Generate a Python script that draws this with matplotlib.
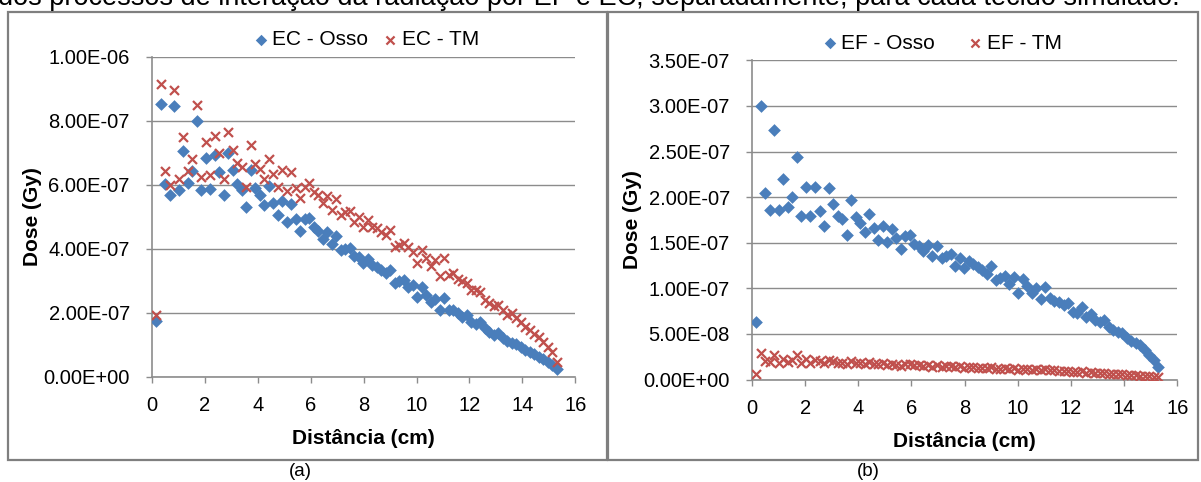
import matplotlib
matplotlib.use('Agg')
import matplotlib.pyplot as plt
from matplotlib.patches import Rectangle
from matplotlib.ticker import FuncFormatter, MultipleLocator

plt.rcParams['font.family'] = ['Liberation Sans', 'DejaVu Sans']

# distância (cm) - mesma grade para todas as séries
distancia = [0.16, 0.33, 0.50, 0.67, 0.84, 1.01, 1.18, 1.35, 1.52, 1.69,
             1.86, 2.03, 2.20, 2.37, 2.54, 2.71, 2.88, 3.05, 3.22, 3.39,
             3.56, 3.73, 3.90, 4.07, 4.24, 4.41, 4.58, 4.75, 4.92, 5.09,
             5.26, 5.43, 5.60, 5.77, 5.94, 6.11, 6.28, 6.45, 6.62, 6.79,
             6.96, 7.13, 7.30, 7.47, 7.64, 7.81, 7.98, 8.15, 8.32, 8.49,
             8.66, 8.83, 9.00, 9.17, 9.34, 9.51, 9.68, 9.85, 10.02, 10.19,
             10.36, 10.53, 10.70, 10.87, 11.04, 11.21, 11.38, 11.55, 11.72, 11.89,
             12.06, 12.23, 12.40, 12.57, 12.74, 12.91, 13.08, 13.25, 13.42, 13.59,
             13.76, 13.93, 14.10, 14.27, 14.44, 14.61, 14.78, 14.95, 15.12, 15.29]

# EC (x 1e-7 Gy)
ec_osso = [1.75, 8.53, 6.02, 5.68, 8.47, 5.85, 7.05, 6.05, 6.42, 7.99,
           5.85, 6.85, 5.86, 6.93, 6.39, 5.67, 6.98, 6.47, 6.03, 5.83,
           5.31, 6.46, 5.89, 5.68, 5.36, 5.95, 5.42, 5.05, 5.50, 4.84,
           5.40, 4.92, 4.56, 4.92, 4.95, 4.67, 4.56, 4.31, 4.53, 4.14,
           4.40, 3.96, 4.00, 4.03, 3.77, 3.73, 3.56, 3.67, 3.49, 3.42,
           3.33, 3.25, 3.35, 2.92, 2.99, 3.02, 2.79, 2.86, 2.50, 2.79,
           2.55, 2.34, 2.43, 2.10, 2.45, 2.10, 2.08, 1.98, 1.88, 1.93,
           1.72, 1.65, 1.72, 1.51, 1.41, 1.30, 1.38, 1.20, 1.13, 1.04,
           1.02, 0.94, 0.85, 0.78, 0.70, 0.63, 0.54, 0.46, 0.36, 0.24]
ec_tm = [1.93, 9.15, 6.44, 5.99, 8.96, 6.19, 7.48, 6.44, 6.79, 8.49,
         6.25, 7.32, 6.30, 7.52, 6.98, 6.19, 7.66, 7.10, 6.69, 6.54,
         5.94, 7.24, 6.65, 6.50, 6.17, 6.81, 6.35, 5.92, 6.46, 5.81,
         6.41, 5.89, 5.57, 5.92, 6.04, 5.78, 5.68, 5.42, 5.65, 5.21,
         5.54, 5.05, 5.16, 5.19, 4.84, 5.00, 4.67, 4.90, 4.69, 4.64,
         4.53, 4.43, 4.58, 4.06, 4.11, 4.17, 4.06, 3.91, 3.54, 3.96,
         3.70, 3.46, 3.65, 3.15, 3.70, 3.18, 3.23, 3.04, 3.00, 2.92,
         2.71, 2.71, 2.66, 2.40, 2.29, 2.21, 2.24, 2.08, 1.93, 1.98,
         1.82, 1.72, 1.56, 1.46, 1.35, 1.25, 1.09, 0.94, 0.78, 0.47]

# EF (x 1e-8 Gy)
ef_osso = [6.3, 30.0, 20.4, 18.6, 27.4, 18.6, 22.0, 18.95, 20.0, 24.4,
           17.9, 21.1, 17.9, 21.1, 18.5, 16.8, 20.95, 19.2, 17.9, 17.6,
           15.8, 19.7, 17.85, 17.2, 16.2, 18.1, 16.6, 15.3, 16.8, 15.1,
           16.5, 15.5, 14.3, 15.7, 15.8, 14.9, 14.6, 14.1, 14.7, 13.5,
           14.6, 13.3, 13.5, 13.8, 12.4, 13.3, 12.2, 13.0, 12.7, 12.3,
           12.0, 11.6, 12.4, 10.9, 11.1, 11.35, 10.5, 11.2, 9.45, 11.0,
           10.2, 9.5, 10.0, 8.8, 10.1, 8.9, 8.65, 8.5, 8.2, 8.4,
           7.45, 7.25, 8.0, 6.9, 7.2, 6.5, 6.35, 6.5, 5.8, 5.4,
           5.2, 5.1, 4.5, 4.25, 3.95, 3.8, 3.2, 2.7, 2.15, 1.4]
ef_tm = [0.55, 2.95, 2.0, 1.9, 2.65, 1.8, 2.3, 1.95, 2.1, 2.7,
         1.85, 2.2, 1.85, 2.15, 2.0, 1.8, 2.15, 2.0, 1.85, 1.8,
         1.65, 2.05, 1.85, 1.8, 1.7, 1.9, 1.75, 1.65, 1.8, 1.6,
         1.75, 1.6, 1.5, 1.65, 1.75, 1.6, 1.55, 1.45, 1.6, 1.4,
         1.55, 1.4, 1.45, 1.45, 1.35, 1.45, 1.3, 1.4, 1.35, 1.3,
         1.3, 1.25, 1.35, 1.15, 1.2, 1.25, 1.2, 1.25, 1.05, 1.2,
         1.15, 1.05, 1.15, 1.0, 1.15, 1.0, 1.0, 0.95, 0.95, 0.95,
         0.85, 0.85, 0.9, 0.75, 0.8, 0.7, 0.75, 0.7, 0.6, 0.6,
         0.6, 0.55, 0.5, 0.5, 0.45, 0.4, 0.4, 0.35, 0.3, 0.25]

AZUL = '#4a7ebb'
VERMELHO = '#c0504d'
CINZA = '#8c8c8c'

W, H = 1201, 482
fig = plt.figure(figsize=(W / 100, H / 100), dpi=100)


def estilo_eixo(ax, ymax, ystep):
    ax.set_xlim(0, 16)
    ax.set_ylim(0, ymax)
    ax.xaxis.set_major_locator(MultipleLocator(2))
    ax.yaxis.set_major_locator(MultipleLocator(ystep))
    ax.yaxis.set_major_formatter(FuncFormatter(lambda v, p: f'{v:.2E}'))
    for s in ['top', 'right']:
        ax.spines[s].set_visible(False)
    for s in ['left', 'bottom']:
        ax.spines[s].set_color(CINZA)
        ax.spines[s].set_linewidth(1.2)
    ax.grid(True, axis='y', color=CINZA, linewidth=1.0)
    ax.set_axisbelow(True)
    ax.tick_params(axis='both', direction='out', length=4, color=CINZA,
                   width=1, labelsize=14.5)
    ax.tick_params(axis='x', pad=10)
    ax.tick_params(axis='y', pad=12)
    ax.set_xlabel('Distância (cm)', fontsize=15, fontweight='bold', labelpad=10)
    ax.set_ylabel('Dose (Gy)', fontsize=15, fontweight='bold', labelpad=1)


# (a) EC
ax1 = fig.add_axes([152 / W, 1 - 376.7 / H, (575.3 - 152) / W, 320 / H])
ax1.scatter(distancia, [v * 1e-7 for v in ec_osso], marker='D', s=42,
            color=AZUL, linewidths=0, label='EC - Osso', zorder=3)
ax1.scatter(distancia, [v * 1e-7 for v in ec_tm], marker='x', s=42,
            color=VERMELHO, linewidths=1.6, label='EC - TM', zorder=3)
estilo_eixo(ax1, 1e-6, 2e-7)
ax1.legend(loc='center', bbox_to_anchor=((364 - 152) / 423.3, 1 + 17 / 320),
           ncol=2, frameon=False, fontsize=15, handletextpad=0.0,
           columnspacing=0.5, markerscale=0.9, handlelength=1.1)

# (b) EF
ax2 = fig.add_axes([752 / W, 1 - 379.5 / H, (1177.3 - 752) / W, 319.2 / H])
ax2.scatter(distancia, [v * 1e-8 for v in ef_osso], marker='D', s=42,
            color=AZUL, linewidths=0, label='EF - Osso', zorder=3)
ax2.scatter(distancia, [v * 1e-8 for v in ef_tm], marker='x', s=42,
            color=VERMELHO, linewidths=1.6, label='EF - TM', zorder=3)
estilo_eixo(ax2, 3.5e-7, 5e-8)
ax2.legend(loc='center', bbox_to_anchor=((940 - 752) / 425.3, 1 + 17 / 319.2),
           ncol=2, frameon=False, fontsize=15, handletextpad=0.0,
           columnspacing=1.4, markerscale=0.9, handlelength=1.1)

# molduras dos gráficos
for x0, x1 in [(8, 607), (608, 1198)]:
    fig.patches.append(Rectangle((x0 / W, 1 - 460 / H), (x1 - x0) / W, 448 / H,
                                 transform=fig.transFigure, fill=False,
                                 edgecolor='#7f7f7f', linewidth=1.6))

fig.text(300 / W, 1 - 472 / H, '(a)', ha='center', va='center', fontsize=13.5)
fig.text(868 / W, 1 - 472 / H, '(b)', ha='center', va='center', fontsize=13.5)

# linha de texto cortada no topo
fig.text(-2 / W, 1 - 5 / H,
         'dos processos de interação da radiação por EF e EC, separadamente, '
         'para cada tecido simulado.',
         ha='left', va='baseline', fontsize=19.5)

fig.savefig('out.png', dpi=100)
